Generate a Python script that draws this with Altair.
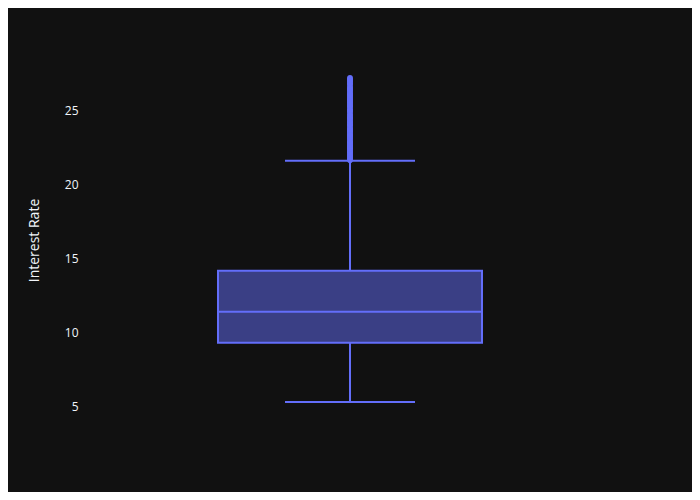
import altair as alt
import pandas as pd

# Box statistics
lower_whisker = [5.31]
q1 = [9.32]
median = [11.42]
q3 = [14.19]
upper_whisker = [21.63]

# Outliers above the upper whisker
outliers = [21.67, 21.74, 21.82, 21.91, 21.97, 22.06, 22.11, 22.2, 22.28, 22.35,
            22.45, 22.47, 22.55, 22.6, 22.68, 22.74, 22.78, 22.85, 22.9, 22.95,
            23.05, 23.13, 23.2, 23.28, 23.35, 23.4, 23.5, 23.59, 23.63, 23.7,
            23.76, 23.83, 23.91, 24.0, 24.08, 24.11, 24.2, 24.27, 24.33, 24.42,
            24.5, 24.55, 24.6, 24.7, 24.78, 24.89, 24.99, 25.05, 25.1, 25.2,
            25.28, 25.34, 25.4, 25.49, 25.57, 25.63, 25.69, 25.8, 25.83, 25.91,
            25.99, 26.06, 26.14, 26.2, 26.3, 26.38, 26.45, 26.5, 26.57, 26.65,
            26.77, 26.84, 26.9, 27.0, 27.06, 27.1, 27.18, 27.24]

COLOR = "#636efa"

stats = pd.DataFrame({
    "x": [0.0],
    "lo": lower_whisker,
    "q1": q1,
    "med": median,
    "q3": q3,
    "hi": upper_whisker,
})
out_df = pd.DataFrame({"x": [0.0] * len(outliers), "rate": outliers})

yscale = alt.Scale(domain=[4.09, 28.45], nice=False, zero=False)
xscale = alt.Scale(domain=[-1, 1])

yaxis = alt.Axis(
    values=[5, 10, 15, 20, 25], grid=False, ticks=False, domain=False,
    labelColor="#f2f5fa", labelFont="Open Sans", labelFontSize=12, labelPadding=2,
    title="Interest Rate", titleColor="#f2f5fa", titleFont="Open Sans",
    titleFontSize=14, titleFontWeight="normal", titleAngle=270,
    titleX=-46, titleY=180, titleAlign="center", titleBaseline="middle",
)

base = alt.Chart(stats)
X = alt.X("x:Q", scale=xscale, axis=None)

whisker_low = base.mark_rule(color=COLOR, strokeWidth=2).encode(
    x=X, y=alt.Y("lo:Q", scale=yscale, axis=yaxis), y2="q1:Q")
whisker_high = base.mark_rule(color=COLOR, strokeWidth=2).encode(
    x=X, y=alt.Y("q3:Q", scale=yscale), y2="hi:Q")
box = base.mark_bar(size=264, color=COLOR, fillOpacity=0.5, stroke=COLOR,
                    strokeWidth=2).encode(
    x=X, y=alt.Y("q1:Q", scale=yscale), y2="q3:Q")
med = base.mark_tick(orient="horizontal", size=264, thickness=2, color=COLOR,
                     opacity=1).encode(x=X, y=alt.Y("med:Q", scale=yscale))
cap_lo = base.mark_tick(orient="horizontal", size=130, thickness=2, color=COLOR,
                        opacity=1).encode(x=X, y=alt.Y("lo:Q", scale=yscale))
cap_hi = base.mark_tick(orient="horizontal", size=130, thickness=2, color=COLOR,
                        opacity=1).encode(x=X, y=alt.Y("hi:Q", scale=yscale))
pts = alt.Chart(out_df).mark_circle(size=32, color=COLOR, opacity=1).encode(
    x=alt.X("x:Q", scale=xscale, axis=None),
    y=alt.Y("rate:Q", scale=yscale))

chart = alt.layer(whisker_low, whisker_high, box, med, cap_lo, cap_hi, pts).properties(
    width=540, height=360,
    background="#111111",
    autosize=alt.AutoSizeParams(type="none"),
    padding={"left": 72, "top": 52, "right": 72, "bottom": 72},
).configure_view(stroke=None)

chart.save("out.html", embed_options={"renderer": "svg", "actions": False})
